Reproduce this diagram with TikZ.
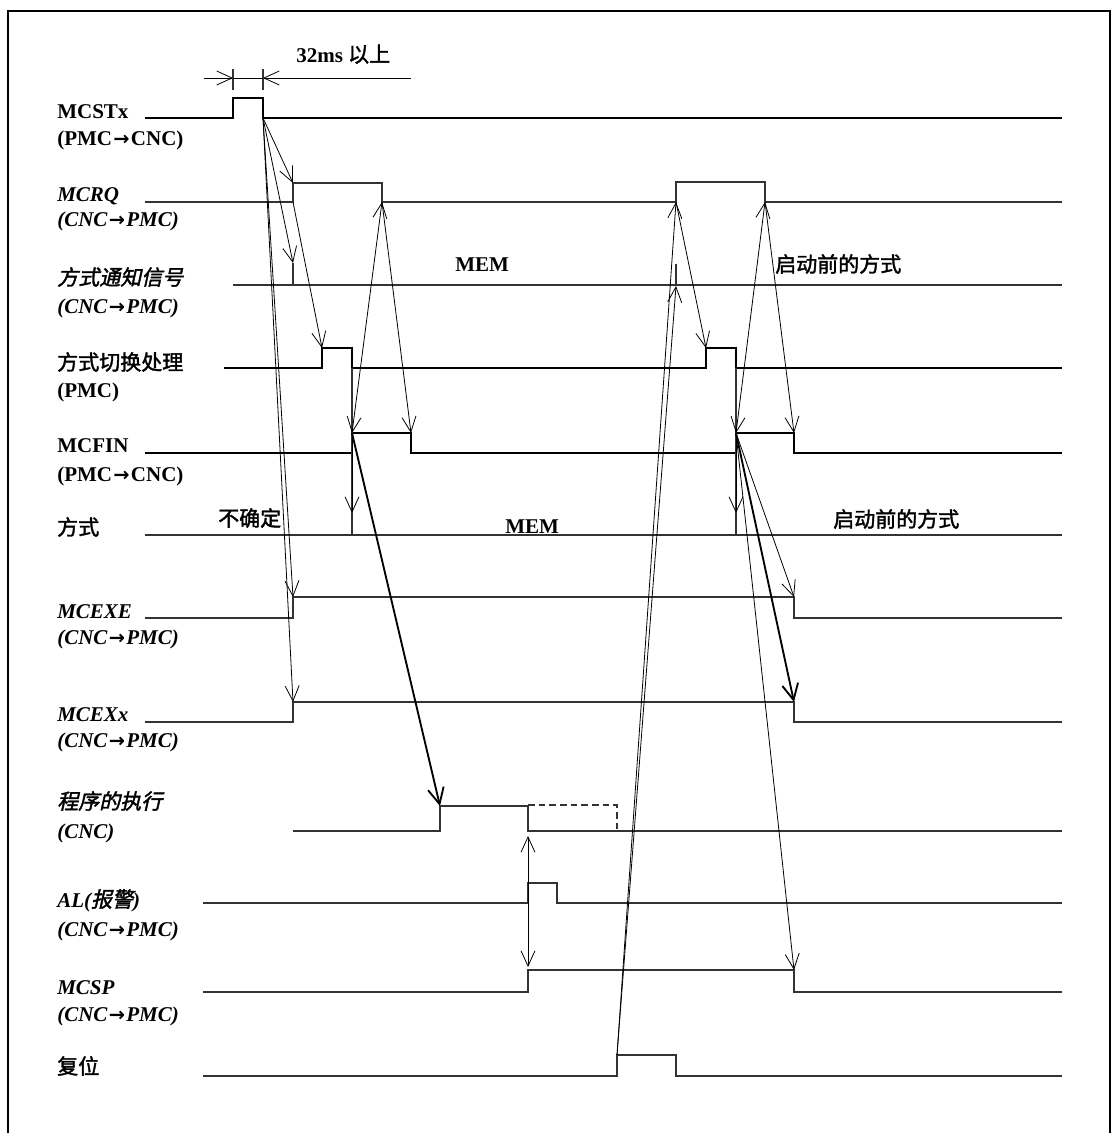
\documentclass[tikz,border=0pt]{standalone}
\usepackage{fontspec}
\setmainfont{Liberation Serif}
\newfontfamily\cjk[FakeBold=1.8]{Noto Sans CJK SC}
\newfontfamily\cjksl[FakeSlant=0.22,FakeBold=1.8]{Noto Sans CJK SC}
\newfontfamily\symf{DejaVu Sans}
\usetikzlibrary{arrows.meta}
\newcommand\sigfont{\fontsize{15.75}{19}\selectfont}
\newcommand\zh[1]{{\cjk\mdseries #1}}
\newcommand\zhs[1]{{\cjksl\mdseries #1}}
\newcommand\arr{{\symf\bfseries\upshape\fontsize{14.5}{14}\selectfont\kern1pt→\kern1pt}}
\tikzset{
  sig/.style={line width=1pt, draw=black!80},
  sigb/.style={line width=1.6pt, draw=black},
  tck/.style={line width=0.8pt, draw=black!80},
  ar/.style={-{Straight Barb[length=11.5pt,width=10.5pt]}, line width=0.6pt},
  ardbl/.style={{Straight Barb[length=11.5pt,width=10.5pt]}-{Straight Barb[length=11.5pt,width=10.5pt]}, line width=0.6pt},
  arb/.style={-{Straight Barb[length=12pt,width=12pt]}, line width=1.4pt},
  lbl/.style={anchor=base west, inner sep=0pt, font=\sigfont\bfseries},
  lbli/.style={lbl, font=\sigfont\bfseries\itshape},
}

\begin{document}
\begin{tikzpicture}[x=0.75pt,y=-0.75pt]
\useasboundingbox (0,0) rectangle (1114,1133);
\draw[line width=1.8pt] (8,1150) -- (8,11) -- (1110,11) -- (1110,1150);

% signal names
\foreach \nm/\y/\st/\txt in {
 lstx/118/lbl/{MCSTx}, lstxd/145/lbl/{(PMC\arr CNC)},
 lrq/201/lbli/{MCRQ}, lrqd/226/lbli/{(CNC\arr PMC)},
 lmn/285/lbl/{\zhs{方式通知信号}}, lmnd/313/lbli/{(CNC\arr PMC)},
 lsw/370/lbl/{\zh{方式切换处理}}, lswd/397/lbl/{(PMC)},
 lfin/452/lbl/{MCFIN}, lfind/481/lbl/{(PMC\arr CNC)},
 lmd/535/lbl/{\zh{方式}},
 lexe/618/lbli/{MCEXE}, lexed/644/lbli/{(CNC\arr PMC)},
 lexx/721/lbli/{MCEXx}, lexxd/747/lbli/{(CNC\arr PMC)},
 lprg/809/lbl/{\zhs{程序的执行}}, lprgd/838/lbli/{(CNC)},
 lal/907/lbli/{AL(\zhs{报警})}, lald/936/lbli/{(CNC\arr PMC)},
 lsp/994/lbli/{MCSP}, lspd/1021/lbli/{(CNC\arr PMC)},
 lrst/1074/lbl/{\zh{复位}}} {
  \node[\st] (\nm) at (57,\y) {\txt};
}

% waveforms
\draw[sigb] (145,118) -- (233,118) -- (233,98) -- (263,98) -- (263,118) -- (1062,118);
\draw[sig] (145,202) -- (293,202) -- (293,183) -- (382,183) -- (382,202) -- (676,202)
  -- (676,182) -- (765,182) -- (765,202) -- (1062,202);
\draw[sig] (233,285) -- (1062,285);
\draw[sigb] (224,368) -- (322,368) -- (322,348) -- (352,348) -- (352,368) -- (706,368)
  -- (706,348) -- (736,348) -- (736,368) -- (1062,368);
\draw[sigb] (145,453) -- (352,453) -- (352,433) -- (411,433) -- (411,453) -- (736,453)
  -- (736,433) -- (794,433) -- (794,453) -- (1062,453);
\draw[sig] (145,535) -- (1062,535);
\draw[sig] (145,618) -- (293,618) -- (293,597) -- (794,597) -- (794,618) -- (1062,618);
\draw[sig] (145,722) -- (293,722) -- (293,702) -- (794,702) -- (794,722) -- (1062,722);
\draw[sig] (293,831) -- (440,831) -- (440,806) -- (528,806) -- (528,831) -- (1062,831);
\draw[sig, dash pattern=on 5pt off 3pt] (528,805) -- (617,805) -- (617,831);
\draw[sig] (203,903) -- (528,903) -- (528,883) -- (557,883) -- (557,903) -- (1062,903);
\draw[sig] (203,992) -- (528,992) -- (528,970) -- (794,970) -- (794,992) -- (1062,992);
\draw[sig] (203,1076) -- (617,1076) -- (617,1055) -- (676,1055) -- (676,1076) -- (1062,1076);

% mode ticks
\draw[tck] (293,263) -- (293,285);
\draw[tck] (676,264) -- (676,285);
\draw[tck] (352,368) -- (352,535);
\draw[tck] (736,368) -- (736,535);

% row texts
\node[lbl] (tmem1) at (455,271) {MEM};
\node[lbl] (tbef1) at (775,272) {\zh{启动前的方式}};
\node[lbl] (tund) at (218,526) {\zh{不确定}};
\node[lbl] (tmem2) at (505,533) {MEM};
\node[lbl] (tbef2) at (833,527) {\zh{启动前的方式}};

% 32ms
\coordinate (dimL) at (204,78);
\coordinate (dimA) at (233,78);
\coordinate (dimB) at (263,78);
\coordinate (dimR) at (411,78);
\draw[tck] (233,69) -- (233,90);
\draw[tck] (263,69) -- (263,90);
\draw[line width=0.6pt] (dimA) -- (dimB);
\draw[ar] (dimL) -- (dimA);
\draw[ar] (dimR) -- (dimB);
\node[lbl] (tdim) at (296,62) {32ms \zh{以上}};

% edge points
\coordinate (stxF) at (263,118);
\coordinate (rqR) at (293,183);
\coordinate (rqRl) at (293,202);
\coordinate (rqF) at (382,202);
\coordinate (rqR2) at (676,202);
\coordinate (rqF2) at (765,202);
\coordinate (mn1) at (293,263);
\coordinate (mn2) at (676,286);
\coordinate (swR) at (322,348);
\coordinate (swR2) at (706,348);
\coordinate (finR) at (352,433);
\coordinate (finF) at (411,433);
\coordinate (finR2) at (736,433);
\coordinate (finF2) at (794,433);
\coordinate (md1) at (352,513);
\coordinate (md2) at (736,513);
\coordinate (exeR) at (293,597);
\coordinate (exeF) at (794,597);
\coordinate (exxR) at (293,702);
\coordinate (exxF) at (794,702);
\coordinate (prgR) at (440,806);
\coordinate (prgF) at (528,836);
\coordinate (spR) at (528,967);
\coordinate (spF) at (794,970);
\coordinate (rstR) at (617,1055);

% causes
\draw[ar] (stxF) -- (rqR);
\draw[ar] (stxF) -- (mn1);
\draw[ar] (stxF) -- (exeR);
\draw[ar] (stxF) -- (exxR);
\draw[ar] (rqRl) -- (swR);
\draw[ardbl] (rqF) -- (finR);
\draw[ar] (rqF) -- (finF);
\draw[ar] (finR) -- (md1);
\draw[arb] (finR) -- (prgR);
\draw[ardbl] (prgF) -- (spR);
\draw[ar] (rstR) -- (rqR2);
\draw[ar] (rstR) -- (mn2);
\draw[ar] (rqR2) -- (swR2);
\draw[ardbl] (rqF2) -- (finR2);
\draw[ar] (rqF2) -- (finF2);
\draw[ar] (finR2) -- (md2);
\draw[ar] (finR2) -- (exeF);
\draw[arb] (finR2) -- (exxF);
\draw[ar] (finR2) -- (spF);
\end{tikzpicture}
\end{document}
